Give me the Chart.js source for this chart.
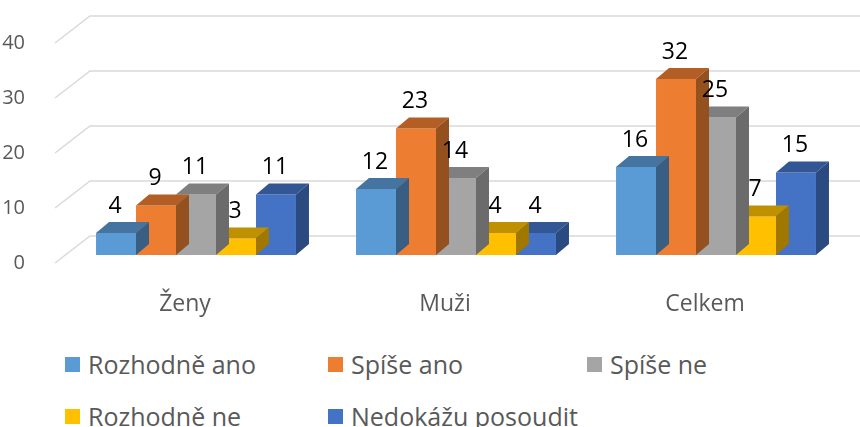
<!DOCTYPE html>
<html><head><meta charset="utf-8">
<script src="https://cdn.jsdelivr.net/npm/chart.js@4/dist/chart.umd.min.js"></script>
<style>
html,body{margin:0;padding:0;background:#fff;width:860px;height:427px;overflow:hidden;font-family:"Open Sans",sans-serif;}
#wrap{position:relative;width:860px;height:427px;}
canvas{position:absolute;left:0;top:0;}
#legend{position:absolute;left:65px;top:338px;display:grid;grid-template-columns:263px 259px auto;grid-auto-rows:52px;align-items:center;}
.item{display:flex;align-items:center;font-size:25px;color:#595959;white-space:nowrap;}
.sw{width:15px;height:15px;margin-right:8px;flex:none;}
</style></head>
<body><div id="wrap"><canvas id="c" width="860" height="330"></canvas><div id="legend"></div></div>
<script>
const categories = ['Ženy', 'Muži', 'Celkem'];
const seriesNames = ['Rozhodně ano', 'Spíše ano', 'Spíše ne', 'Rozhodně ne', 'Nedokážu posoudit'];
const rozhodneAno = [4, 12, 16];
const spiseAno = [9, 23, 32];
const spiseNe = [11, 14, 25];
const rozhodneNe = [3, 4, 7];
const nedokazuPosoudit = [11, 4, 15];
const yMin = 0, yMax = 40, yStep = 10;

const frontColors = ['#5B9BD5', '#ED7D31', '#A5A5A5', '#FFC000', '#4472C4'];
const topColors   = ['#44749F', '#B25E25', '#7F7F7F', '#BF9000', '#335694'];
const sideColors  = ['#385F83', '#94501F', '#6B6B6B', '#A07800', '#2A4A80'];
const seriesValues = [rozhodneAno, spiseAno, spiseNe, rozhodneNe, nedokazuPosoudit];

const DX = 13, DY = -11;

const gridPlugin = {
  id: 'grid3d',
  beforeDatasetsDraw(chart) {
    const ctx = chart.ctx, ys = chart.scales.y, left = chart.chartArea.left;
    ctx.save();
    ctx.strokeStyle = '#D9D9D9';
    ctx.lineWidth = 1.5;
    ys.ticks.forEach(t => {
      const y = ys.getPixelForValue(t.value);
      ctx.beginPath();
      ctx.moveTo(left - 11, y + 8);
      ctx.lineTo(left + 24, y - 19);
      ctx.lineTo(chart.width, y - 19);
      ctx.stroke();
    });
    ctx.restore();
  }
};

const depthPlugin = {
  id: 'depth3d',
  afterDatasetDraw(chart, args) {
    const ctx = chart.ctx, i = args.index;
    ctx.save();
    args.meta.data.forEach(bar => {
      const p = bar.getProps(['x', 'y', 'base', 'width'], true);
      const l = p.x - p.width / 2, r = p.x + p.width / 2;
      ctx.fillStyle = topColors[i];
      ctx.beginPath();
      ctx.moveTo(l, p.y); ctx.lineTo(l + DX, p.y + DY); ctx.lineTo(r + DX, p.y + DY); ctx.lineTo(r, p.y);
      ctx.closePath(); ctx.fill();
      ctx.fillStyle = sideColors[i];
      ctx.beginPath();
      ctx.moveTo(r, p.y); ctx.lineTo(r + DX, p.y + DY); ctx.lineTo(r + DX, p.base + DY); ctx.lineTo(r, p.base);
      ctx.closePath(); ctx.fill();
    });
    ctx.restore();
  },
  afterDatasetsDraw(chart) {
    const ctx = chart.ctx;
    ctx.save();
    ctx.font = '23px "Open Sans"';
    ctx.fillStyle = '#000';
    ctx.textAlign = 'center';
    ctx.textBaseline = 'middle';
    chart.data.datasets.forEach((ds, i) => {
      chart.getDatasetMeta(i).data.forEach((bar, j) => {
        const p = bar.getProps(['x', 'y'], true);
        ctx.fillText(String(ds.data[j]), p.x - 1, p.y - 27);
      });
    });
    ctx.restore();
  }
};

function draw() {
  new Chart(document.getElementById('c'), {
    type: 'bar',
    data: {
      labels: categories,
      datasets: seriesNames.map((n, i) => ({
        label: n, data: seriesValues[i], backgroundColor: frontColors[i], borderWidth: 0,
        categoryPercentage: 0.769, barPercentage: 1
      }))
    },
    options: {
      responsive: false, animation: false,
      layout: { padding: { top: 35, right: 14, left: 0, bottom: 0 } },
      plugins: { legend: { display: false }, tooltip: { enabled: false } },
      scales: {
        x: {
          grid: { display: false }, border: { display: false },
          ticks: { color: '#595959', font: { family: 'Open Sans', size: 23 }, padding: 28, labelOffset: -11, maxRotation: 0 },
          afterFit(s) { s.height = 75; s.paddingLeft = 0; s.paddingRight = 0; }
        },
        y: {
          min: yMin, max: yMax,
          grid: { display: false }, border: { display: false },
          ticks: { stepSize: yStep, color: '#595959', font: { family: 'Open Sans', size: 20 }, padding: 33, labelOffset: 8 },
          afterFit(s) { s.width = 66; s.paddingTop = 0; s.paddingBottom = 0; }
        }
      }
    },
    plugins: [gridPlugin, depthPlugin]
  });
  const lg = document.getElementById('legend');
  seriesNames.forEach((n, i) => {
    const it = document.createElement('div'); it.className = 'item';
    const sw = document.createElement('span'); sw.className = 'sw'; sw.style.background = frontColors[i];
    const tx = document.createElement('span'); tx.textContent = n;
    it.appendChild(sw); it.appendChild(tx); lg.appendChild(it);
  });
}
if (document.fonts && document.fonts.load) {
  Promise.all([document.fonts.load('23px "Open Sans"'), document.fonts.load('20px "Open Sans"')]).then(draw, draw);
} else { draw(); }
</script>
</body></html>
